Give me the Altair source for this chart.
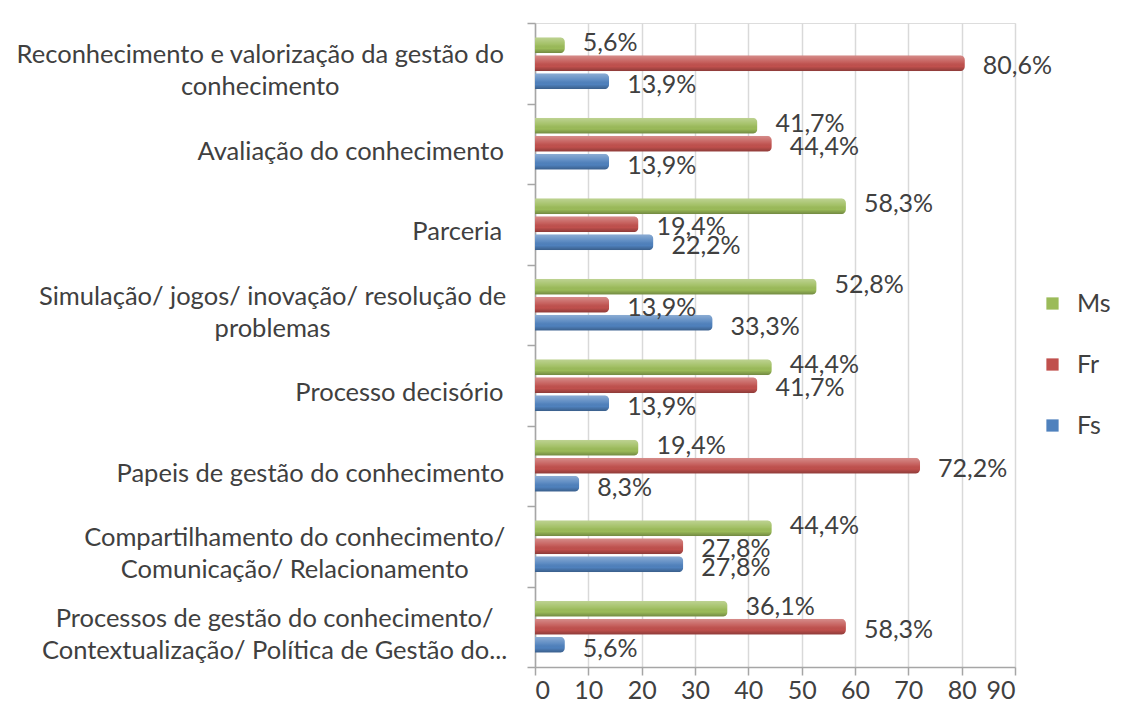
import altair as alt
import pandas as pd

categories = [
    "Reconhecimento e valorização da gestão do|conhecimento",
    "Avaliação do conhecimento",
    "Parceria",
    "Simulação/ jogos/ inovação/ resolução de|problemas",
    "Processo decisório",
    "Papeis de gestão do conhecimento",
    "Compartilhamento do conhecimento/|Comunicação/ Relacionamento",
    "Processos de gestão do conhecimento/|Contextualização/ Política de Gestão do...",
]
series = ["Ms", "Fr", "Fs"]
ms = [5.6, 41.7, 58.3, 52.8, 44.4, 19.4, 44.4, 36.1]
fr = [80.6, 44.4, 19.4, 13.9, 41.7, 72.2, 27.8, 58.3]
fs = [13.9, 13.9, 22.2, 33.3, 13.9, 8.3, 27.8, 5.6]
colors = ["#9BBB59", "#C0504D", "#4F81BD"]
x_ticks = [0, 10, 20, 30, 40, 50, 60, 70, 80, 90]

FONT = "Lato"
TXT = "#404040"
FS_CAT = 25.5
FS_NUM = 25
LABEL_DY = {"Ms": -2, "Fr": 3, "Fs": 4}

# approximate glyph advance widths (em) of the label font, used to centre wrapped lines
GLYPH_EM = {
    "a": .51, "b": .57, "c": .47, "d": .57, "e": .53, "f": .33, "g": .51, "h": .57,
    "i": .25, "j": .25, "k": .52, "l": .25, "m": .85, "n": .57, "o": .57, "p": .57,
    "q": .57, "r": .38, "s": .43, "t": .36, "u": .57, "v": .52, "w": .78, "x": .50,
    "y": .52, "z": .46, " ": .26, "/": .37, ".": .23, ",": .23,
    "ã": .51, "á": .51, "ç": .47, "ó": .57, "í": .25,
}


def text_em(s):
    return sum(GLYPH_EM.get(ch, 0.63) for ch in s) * 0.98


rows = []
for s, vals in zip(series, [ms, fr, fs]):
    for c, v in zip(categories, vals):
        rows.append({"cat": c, "series": s, "value": v,
                     "label": f"{v:.1f}".replace(".", ",") + "%"})
df = pd.DataFrame(rows)
lab = pd.DataFrame({"cat": categories})
lab["two"] = lab["cat"].str.contains("|", regex=False)
lab["lx"] = [-(32 + FS_CAT * max(text_em(p) for p in c.split("|")) / 2) for c in categories]

y_enc = alt.Y("cat:N", sort=categories, title=None,
              scale=alt.Scale(paddingInner=0, paddingOuter=0),
              axis=alt.Axis(labels=False, ticks=True, tickBand="extent", tickSize=8,
                            domainColor="#a6a6a6", tickColor="#a6a6a6", grid=False,
                            domainWidth=1.5, tickWidth=1.5))
yoff = alt.YOffset("series:N", sort=series,
                   scale=alt.Scale(paddingInner=0.12, paddingOuter=0.795))
x_enc = alt.X("value:Q", title=None,
              scale=alt.Scale(domain=[0, 90], nice=False),
              axis=alt.Axis(values=x_ticks, labelFontSize=FS_NUM, labelFont=FONT,
                            labelColor=TXT, tickSize=8, labelPadding=3,
                            domainColor="#a6a6a6", tickColor="#a6a6a6",
                            domainWidth=1.5, tickWidth=1.5,
                            gridColor="#d9d9d9", gridWidth=1.5))

base = alt.Chart(df)

bars = base.mark_bar(cornerRadiusEnd=5).encode(
    y=y_enc, yOffset=yoff, x=x_enc,
    color=alt.Color("series:N", sort=series,
                    scale=alt.Scale(domain=series, range=colors),
                    legend=alt.Legend(title=None, orient="none", legendX=505, legendY=268,
                                      labelFontSize=FS_NUM, labelFont=FONT, labelColor=TXT,
                                      symbolType="square", symbolSize=150,
                                      symbolStrokeWidth=0, rowPadding=35,
                                      labelOffset=12)),
)

shade = base.mark_bar(
    cornerRadiusEnd=5,
    color=alt.Gradient(
        gradient="linear", x1=0, y1=0, x2=0, y2=1,
        stops=[alt.GradientStop(color="rgba(255,255,255,0.35)", offset=0),
               alt.GradientStop(color="rgba(255,255,255,0.08)", offset=0.45),
               alt.GradientStop(color="rgba(0,0,0,0)", offset=0.7),
               alt.GradientStop(color="rgba(0,0,0,0.28)", offset=1)]),
).encode(y=alt.Y("cat:N", sort=categories), yOffset=yoff, x="value:Q")


def value_layer(s):
    return base.transform_filter(alt.datum.series == s).mark_text(
        align="left", baseline="middle", dx=18, dy=LABEL_DY[s], fontSize=FS_NUM,
        font=FONT, color=TXT).encode(
        y=alt.Y("cat:N", sort=categories), yOffset=yoff, x="value:Q", text="label:N")


def cat_layer(two_lines):
    return alt.Chart(lab).transform_filter(
        "datum.two" if two_lines else "!datum.two"
    ).mark_text(align="center", baseline="middle", dy=(-8 if two_lines else 8),
                lineBreak="|", lineHeight=32,
                fontSize=FS_CAT, font=FONT, color=TXT).encode(
        y=alt.Y("cat:N", sort=categories),
        x=alt.X("lx:Q", scale=None),
        text="cat:N",
    )


chart = alt.layer(
    bars, shade, *[value_layer(s) for s in series], cat_layer(False), cat_layer(True)
).properties(
    width=480, height=644,
    padding={"left": 16, "top": 22, "right": 5, "bottom": 5},
).configure_view(stroke=None).configure(background="white")

chart.save("out.html", embed_options={"renderer": "svg", "actions": False})
